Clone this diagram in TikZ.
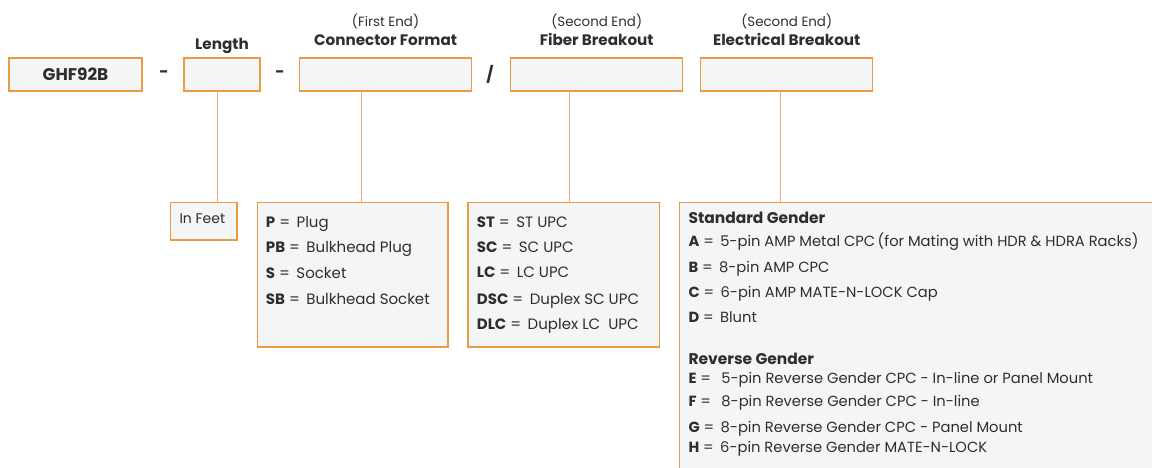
\documentclass[tikz,border=0pt]{standalone}
\usepackage{fontspec}
\setmainfont{Poppins}
\definecolor{edge}{HTML}{E99A45}
\definecolor{wire}{HTML}{EDB070}
\definecolor{panel}{HTML}{F4F5F7}
\definecolor{ink}{HTML}{2E2E2E}
\tikzset{
  field/.style={draw=edge, fill=panel, line width=1.2pt, inner sep=0pt},
  link/.style={draw=wire, line width=1.1pt},
  head/.style={anchor=base, inner sep=0pt, text=ink, font=\fontsize{15.2}{18}\selectfont\bfseries},
  note/.style={anchor=base, inner sep=0pt, text=ink, font=\fontsize{13.4}{16}\selectfont},
  sep/.style={inner sep=0pt, text=ink, font=\fontsize{16}{18}\selectfont\bfseries},
  item/.style={anchor=base west, inner sep=0pt, text=ink, font=\fontsize{15}{16}\selectfont},
  eitem/.style={anchor=base west, inner sep=0pt, text=ink, font=\fontsize{14.7}{16}\selectfont},
  group/.style={anchor=base west, inner sep=0pt, text=ink, font=\fontsize{15.5}{16}\selectfont\bfseries},
}
\newcommand{\eq}[2]{\textbf{#1}\ =\ \,#2}
\begin{document}
\begin{tikzpicture}[x=1pt, y=-1pt]
\useasboundingbox (0,0) rectangle (1152,467);
\clip (0,0) rectangle (1152,467);

% part-number fields
\node[field, minimum width=133, minimum height=33] (pn) at (75.5,74.5) {};
\node[sep, anchor=base, font=\fontsize{16.9}{18}\selectfont\bfseries] (pnt) at (75.5,80) {GHF92B};
\node[field, minimum width=76, minimum height=33] (len) at (222,74.5) {};
\node[field, minimum width=172.5, minimum height=33] (con) at (385.5,74.5) {};
\node[field, minimum width=172, minimum height=33] (fib) at (596.7,74.5) {};
\node[field, minimum width=172, minimum height=33] (ele) at (786.7,74.5) {};

% separators
\node[sep] (d1) at (164,74) {-};
\node[sep] (d2) at (280,74) {-};
\node[sep] (sl) at (490,74) {/};

% field headings
\node[head] (hlen) at (222,49.3) {Length};
\node[note] (ncon) at (385.5,26.7) {(First End)};
\node[head] (hcon) at (385.5,45.7) {Connector Format};
\node[note] (nfib) at (596.7,26.7) {(Second End)};
\node[head] (hfib) at (596.7,45.7) {Fiber Breakout};
\node[note] (nele) at (786.7,26.7) {(Second End)};
\node[head] (hele) at (786.7,45.7) {Electrical Breakout};

% option panels
\node[field, anchor=north west, minimum width=66.3, minimum height=37.3] (feet) at (170,202) {};
\node[field, anchor=north west, minimum width=190.6, minimum height=144.3] (conp) at (256.7,202) {};
\node[field, anchor=north west, minimum width=191.4, minimum height=144.3] (fibp) at (467.3,202) {};
\node[field, anchor=north west, minimum width=490, minimum height=280] (elep) at (678.7,202) {};

% leaders from fields to panels
\draw[link] ([xshift=-4.7pt]len.south) -- ([xshift=-4.7pt]len.south |- feet.north);
\draw[link] ([xshift=-23.8pt]con.south) -- ([xshift=-23.8pt]con.south |- conp.north);
\draw[link] ([xshift=-27.4pt]fib.south) -- ([xshift=-27.4pt]fib.south |- fibp.north);
\draw[link] ([xshift=-6pt]ele.south) -- ([xshift=-6pt]ele.south |- elep.north);

% length
\node[item, font=\fontsize{14}{16}\selectfont] (ft) at (179.3,223.3) {In Feet};

% connector format
\node[item] (c1) at (265.7,227.3) {\eq{P}{Plug}};
\node[item] (c2) at (265.7,252.7) {\eq{PB}{Bulkhead Plug}};
\node[item] (c3) at (265.7,278.3) {\eq{S}{Socket}};
\node[item] (c4) at (265.7,304.3) {\eq{SB}{Bulkhead Socket}};

% fiber breakout
\node[item] (f1) at (476.7,227.3) {\eq{ST}{ST UPC}};
\node[item] (f2) at (476.7,252.3) {\eq{SC}{SC UPC}};
\node[item] (f3) at (476.7,277.3) {\eq{LC}{LC UPC}};
\node[item] (f4) at (476.7,304) {\eq{DSC}{Duplex SC UPC}};
\node[item] (f5) at (476.7,329) {\eq{DLC}{Duplex LC\ \ UPC}};

% electrical breakout
\node[group] (g1) at (688.3,223.3) {Standard Gender};
\node[eitem] (e1) at (688.3,246) {\eq{A}{5-pin AMP Metal CPC\,(for Mating with HDR \& HDRA Racks)}};
\node[eitem] (e2) at (688.3,272.3) {\eq{B}{8-pin AMP CPC}};
\node[eitem] (e3) at (688.3,297.3) {\eq{C}{6-pin AMP MATE-N-LOCK Cap}};
\node[eitem] (e4) at (688.3,322.7) {\eq{D}{Blunt}};
\node[group] (g2) at (688.3,364.3) {Reverse Gender};
\node[eitem] (e5) at (688.3,383.3) {\eq{E}{\ 5-pin Reverse Gender CPC - In-line or Panel Mount}};
\node[eitem] (e6) at (688.3,406.7) {\eq{F}{\ 8-pin Reverse Gender CPC - In-line}};
\node[eitem] (e7) at (688.3,432.7) {\eq{G}{8-pin Reverse Gender CPC - Panel Mount}};
\node[eitem] (e8) at (688.3,452.3) {\eq{H}{6-pin Reverse Gender MATE-N-LOCK}};
\end{tikzpicture}
\end{document}
